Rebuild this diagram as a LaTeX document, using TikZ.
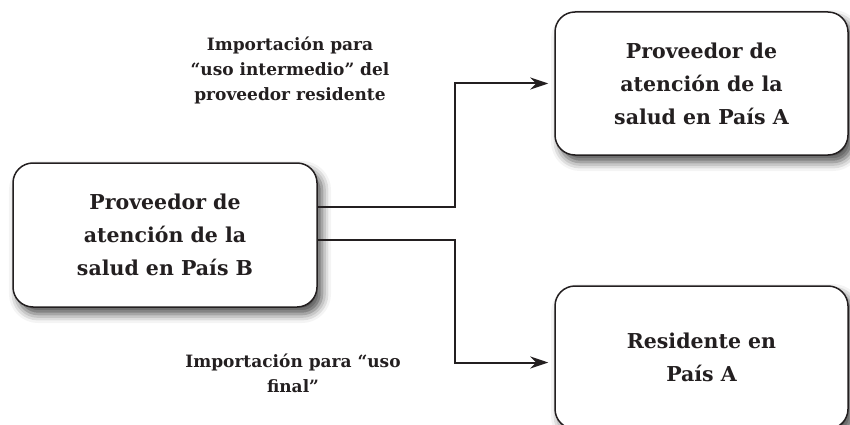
\documentclass[tikz,border=0pt]{standalone}
\usepackage{fontspec}
\setmainfont{DejaVu Serif}
\usetikzlibrary{positioning,arrows.meta,shadows.blur}
\definecolor{ink}{HTML}{231F20}

\begin{document}
\begin{tikzpicture}[x=1pt,y=-1pt,->,>={Stealth[length=18pt,width=12pt]},
    line width=2pt,draw=ink,
    box/.style={draw=ink,fill=white,rounded corners=20pt,line width=1.5pt,
      align=center,text=ink,font=\bfseries\fontsize{20.5}{33}\selectfont,
      blur shadow={shadow xshift=5pt,shadow yshift=-7pt,
        shadow blur radius=9pt,shadow opacity=70}},
    note/.style={align=center,text=ink,font=\bfseries\fontsize{17}{25}\selectfont}]

  \useasboundingbox (0,0) rectangle (850,425);

  \node[box,minimum width=304pt,minimum height=144pt] (B) at (165,235)
    {Proveedor de\\atención de la\\salud en País B};
  \node[box,minimum width=293pt,minimum height=143pt] (A) at (701.5,83.5)
    {Proveedor de\\atención de la\\salud en País A};
  \node[box,minimum width=293pt,minimum height=143pt] (R) at (701.5,357.5)
    {Residente en\\País A};

  \node[note] (inter) at (290,70)
    {Importación para\\“uso intermedio” del\\proveedor residente};
  \node[note] (final) at (293,373)
    {Importación para “uso\\final”};

  \draw[shorten >=6pt] ([yshift=28pt]B.east) -- ++(137,0) |- (A.west);
  \draw[shorten >=6pt] ([yshift=-5pt]B.east) -- ++(137,0) |- ([yshift=-5pt]R.west);
\end{tikzpicture}
\end{document}
